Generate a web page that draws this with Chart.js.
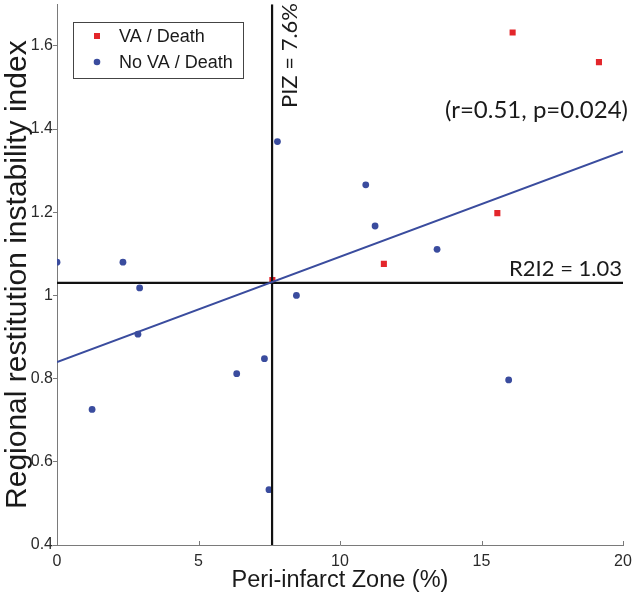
<!DOCTYPE html>
<html><head><meta charset="utf-8">
<script src="https://cdn.jsdelivr.net/npm/chart.js@4.4.1/dist/chart.umd.min.js"></script>
<style>html,body{margin:0;padding:0;background:#fff}#wrap{width:633px;height:597px;position:relative}</style>
</head><body><div id="wrap"><canvas id="c"></canvas></div>
<script>
// ---- data ----
const vaDeathX = [16.1, 19.15, 15.56, 11.55, 7.61];
const vaDeathY = [1.632, 1.561, 1.198, 1.076, 1.037];
const noVaX = [0, 2.33, 2.92, 2.86, 1.24, 6.35, 7.33, 7.49, 8.46, 7.79, 10.91, 11.24, 13.43, 15.96];
const noVaY = [1.08, 1.08, 1.018, 0.907, 0.726, 0.812, 0.848, 0.533, 1.0, 1.37, 1.266, 1.167, 1.111, 0.797];
const fitX = [0, 20];
const fitY = [0.840, 1.346];
const pizThreshold = 7.6;
const r2i2Threshold = 1.03;
const xRange = [0, 20];
const yRange = [0.4, 1.7];
const xTicks = [0, 5, 10, 15, 20];
const yTicks = [0.4, 0.6, 0.8, 1, 1.2, 1.4, 1.6];
const seriesLabels = ['VA / Death', 'No VA / Death'];
const pizLabel = 'PIZ = 7.6%';
const r2i2Label = 'R2I2 = 1.03';
const statsLabel = '(r=0.51, p=0.024)';
const xTitle = 'Peri-infarct Zone (%)';
const yTitle = 'Regional restitution instability index';

const RED = '#e3262b', BLUE = '#3a4c9e';
const pts = (xs, ys) => xs.map((x, i) => ({x, y: ys[i]}));

const overlay = {
  id: 'overlay',
  afterDatasetsDraw(chart) {
    const {ctx, scales: {x, y}} = chart;
    ctx.save();
    // inward x ticks
    ctx.strokeStyle = '#7a7a7a'; ctx.lineWidth = 1;
    xTicks.forEach(v => {
      const px = Math.round(x.getPixelForValue(v)) + 0.5;
      ctx.beginPath(); ctx.moveTo(px, y.bottom); ctx.lineTo(px, y.bottom - 4); ctx.stroke();
    });
    // annotations
    ctx.fillStyle = '#1a1a1a';
    ctx.font = '22px Lato';
    ctx.textBaseline = 'alphabetic';
    // PIZ rotated
    const vx = x.getPixelForValue(pizThreshold);
    ctx.save();
    ctx.translate(vx + 25, 108);
    ctx.rotate(-Math.PI / 2);
    ctx.textAlign = 'left';
    ctx.fillText(pizLabel, 0, 0);
    ctx.restore();
    // R2I2 label
    const hy = y.getPixelForValue(r2i2Threshold);
    ctx.textAlign = 'right';
    ctx.fillText(r2i2Label, x.right - 1, hy - 7);
    ctx.font = '24px Lato';
    ctx.fillText(statsLabel, x.right + 5, 118);
    // legend
    const lx = 73, ly = 22, lw = 170, lh = 56;
    ctx.fillStyle = '#fff';
    ctx.fillRect(lx, ly, lw, lh);
    ctx.strokeStyle = '#444';
    ctx.strokeRect(lx + 0.5, ly + 0.5, lw, lh);
    ctx.font = '18px "Liberation Sans", Arial';
    ctx.textAlign = 'left'; ctx.textBaseline = 'middle';
    const rows = [ly + 14, ly + 40];
    ctx.fillStyle = RED;
    ctx.fillRect(lx + 21, rows[0] - 3, 6, 6);
    ctx.fillStyle = BLUE;
    ctx.beginPath(); ctx.arc(lx + 24, rows[1], 3.3, 0, Math.PI * 2); ctx.fill();
    ctx.fillStyle = '#1a1a1a';
    ctx.fillText(seriesLabels[0], lx + 46, rows[0] + 1);
    ctx.fillText(seriesLabels[1], lx + 46, rows[1] + 1);
    ctx.restore();
  }
};

new Chart(document.getElementById('c'), {
  type: 'scatter',
  data: {
    datasets: [
      { label: 'fit', data: pts(fitX, fitY), showLine: true, borderColor: BLUE, borderWidth: 2, pointRadius: 0 },
      { label: 'piz', data: [{x: pizThreshold, y: yRange[0]}, {x: pizThreshold, y: yRange[1]}], showLine: true, borderColor: '#111', borderWidth: 2.2, pointRadius: 0 },
      { label: 'r2i2', data: [{x: xRange[0], y: r2i2Threshold}, {x: xRange[1], y: r2i2Threshold}], showLine: true, borderColor: '#111', borderWidth: 2.2, pointRadius: 0 },
      { label: seriesLabels[1], data: pts(noVaX, noVaY), pointStyle: 'circle', pointRadius: 3.4, backgroundColor: BLUE, borderWidth: 0 },
      { label: seriesLabels[0], data: pts(vaDeathX, vaDeathY), pointStyle: 'rect', pointRadius: 4.3, backgroundColor: RED, borderWidth: 0 }
    ]
  },
  options: {
    responsive: true, maintainAspectRatio: false, animation: false,
    layout: { padding: { left: 0, right: 10, top: 1, bottom: 0 } },
    plugins: { legend: { display: false }, tooltip: { enabled: false } },
    scales: {
      x: {
        type: 'linear', min: xRange[0], max: xRange[1],
        afterBuildTicks: s => { s.ticks = xTicks.map(v => ({value: v})); },
        afterFit: s => { s.height = 52; s.paddingLeft = 0; s.paddingRight = 0; },
        grid: { drawOnChartArea: false, drawTicks: false },
        border: { color: '#7a7a7a', width: 1 },
        ticks: { color: '#2a2a2a', font: { family: '"Liberation Sans", Arial', size: 16 }, padding: 7, maxRotation: 0 },
        title: { display: true, text: xTitle, color: '#1a1a1a', font: { family: '"Liberation Sans", Arial', size: 23.5 }, padding: { top: 0, bottom: 2 } }
      },
      y: {
        type: 'linear', min: yRange[0], max: yRange[1],
        afterBuildTicks: s => { s.ticks = yTicks.map(v => ({value: v})); },
        afterFit: s => { s.width = 57; s.paddingTop = 0; s.paddingBottom = 0; },
        grid: { drawOnChartArea: false, drawTicks: true, tickLength: 4, color: '#7a7a7a' },
        border: { color: '#7a7a7a', width: 1 },
        ticks: { color: '#2a2a2a', font: { family: '"Liberation Sans", Arial', size: 16 }, padding: 0, callback: v => String(v) },
        title: { display: true, text: yTitle, color: '#1a1a1a', font: { family: '"Liberation Sans", Arial', size: 30 }, padding: { top: 0, bottom: 0 } }
      }
    }
  },
  plugins: [overlay]
});
</script></body></html>
